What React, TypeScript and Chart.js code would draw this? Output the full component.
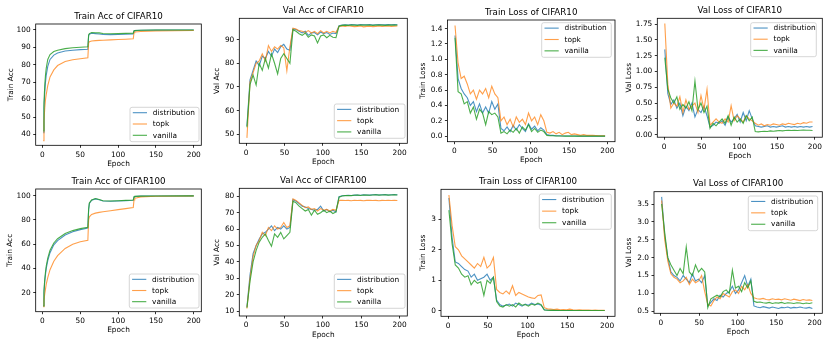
import React, { useEffect, useRef } from "react";
import { Chart, registerables } from "chart.js";
Chart.register(...registerables);

// ---------- epochs ----------
const TA_EPOCHS = [1, 2, 3, 4, 5, 7, 10, 15, 20, 30, 40, 50, 60, 61, 62, 65, 70, 75, 80, 90, 100, 110, 120, 121, 122, 130, 150, 200];
const NZ_EPOCHS = [1, 5, 9, 13, 17, 21, 25, 29, 33, 37, 41, 45, 49, 53, 57, 61, 65, 69, 73, 77, 81, 85, 89, 93, 97, 101, 105, 109, 113, 117, 121, 125, 129, 133, 137, 141, 145, 149, 153, 157, 161, 165, 169, 173, 177, 181, 185, 189, 193, 197];
const X_TICKS = [0, 50, 100, 150, 200];
const SERIES_NAMES = ["distribution", "topk", "vanilla"];

// ---------- CIFAR10 train acc ----------
const c10TrainAccDist = [41, 55, 64, 70, 74, 79, 83, 85.5, 86.7, 87.8, 88.3, 88.6, 88.8, 96.5, 97.5, 98.0, 97.8, 97.6, 97.3, 97.2, 97.3, 97.5, 97.6, 99.3, 99.5, 99.7, 99.8, 99.9];
const c10TrainAccTopk = [36.5, 48, 55, 60, 63, 68, 73, 77, 79.5, 81.8, 82.8, 83.4, 83.9, 92.5, 93.2, 93.6, 93.8, 93.9, 94.0, 94.2, 94.4, 94.6, 94.8, 98.3, 98.7, 99.0, 99.3, 99.6];
const c10TrainAccVan = [42, 58, 68, 74, 78, 83, 85.8, 87.5, 88.3, 89.2, 89.7, 90, 90.3, 97, 97.8, 98.4, 98.3, 98.2, 97.9, 97.7, 97.8, 97.9, 98, 99.4, 99.6, 99.75, 99.85, 99.9];

// ---------- CIFAR10 val acc ----------
const c10ValAccDist = [53.5, 73, 77, 81, 79, 83, 82, 85, 83, 86, 84.5, 87, 88, 86, 85.5, 94.5, 94.3, 93.5, 92.8, 93.5, 91.8, 92.8, 93, 92, 93.2, 92.5, 93, 92.2, 92.8, 92.5, 95.9, 96.2, 96.3, 96.2, 96.4, 96.3, 96.2, 96.4, 96.3, 96.3, 96.4, 96.2, 96.3, 96.4, 96.3, 96.3, 96.4, 96.3, 96.4, 96.3];
const c10ValAccTopk = [48.5, 72, 76, 80, 81, 84, 81, 87.5, 85, 87, 86, 87.5, 86.5, 76.8, 87, 94.8, 94.5, 93.8, 93.5, 93, 93.8, 92.8, 93.5, 92.5, 93.8, 92.8, 93.5, 92.8, 93.5, 93, 95.5, 95.8, 95.6, 95.9, 95.7, 95.5, 95.6, 95.8, 95.4, 95.6, 95.7, 95.5, 95.6, 95.8, 95.6, 95.7, 95.8, 95.6, 95.7, 95.8];
const c10ValAccVan = [53, 71, 75, 70.8, 80, 77, 82, 78, 84, 80, 75.5, 82, 84, 82, 80, 94.2, 93.5, 92.5, 91.8, 92.8, 91, 92, 91.5, 88.6, 91.5, 92, 90.8, 91.8, 91, 90.8, 95.7, 96, 96.1, 96, 96.2, 96.1, 96, 96.2, 96.1, 96.1, 96.2, 96, 96.1, 96.2, 96.1, 96, 96.1, 96.2, 96.1, 96.2];

// ---------- CIFAR10 train loss ----------
const c10TrainLossDist = [1.31, 0.75, 0.62, 0.55, 0.5, 0.4, 0.45, 0.32, 0.42, 0.3, 0.38, 0.3, 0.45, 0.35, 0.42, 0.1, 0.07, 0.12, 0.06, 0.14, 0.08, 0.15, 0.1, 0.06, 0.16, 0.09, 0.13, 0.07, 0.11, 0.08, 0.02, 0.01, 0.01, 0.005, 0.005, 0.003, 0.003, 0.002, 0.002, 0.002, 0.001, 0.001, 0.001, 0.001, 0.001, 0.001, 0.001, 0.001, 0.001, 0.001];
const c10TrainLossTopk = [1.44, 0.95, 0.75, 0.78, 0.68, 0.55, 0.6, 0.48, 0.6, 0.55, 0.62, 0.5, 0.65, 0.55, 0.5, 0.2, 0.25, 0.15, 0.22, 0.12, 0.25, 0.18, 0.22, 0.15, 0.3, 0.2, 0.25, 0.15, 0.28, 0.2, 0.05, 0.04, 0.06, 0.03, 0.05, 0.02, 0.04, 0.05, 0.02, 0.03, 0.02, 0.01, 0.02, 0.01, 0.01, 0.01, 0.008, 0.005, 0.005, 0.005];
const c10TrainLossVan = [1.28, 0.58, 0.55, 0.42, 0.45, 0.3, 0.38, 0.22, 0.35, 0.3, 0.15, 0.32, 0.28, 0.3, 0.25, 0.04, 0.06, 0.03, 0.08, 0.05, 0.1, 0.04, 0.12, 0.08, 0.15, 0.06, 0.1, 0.05, 0.08, 0.06, 0.01, 0.005, 0.005, 0.003, 0.002, 0.002, 0.001, 0.001, 0.001, 0.001, 0.001, 0.001, 0.001, 0.001, 0.001, 0.001, 0.001, 0.001, 0.001, 0.001];

// ---------- CIFAR10 val loss ----------
const c10ValLossDist = [1.35, 0.65, 0.48, 0.55, 0.42, 0.5, 0.3, 0.45, 0.38, 0.5, 0.28, 0.4, 0.35, 0.45, 0.3, 0.12, 0.15, 0.2, 0.18, 0.22, 0.15, 0.28, 0.2, 0.25, 0.32, 0.2, 0.35, 0.22, 0.38, 0.25, 0.14, 0.13, 0.12, 0.13, 0.14, 0.12, 0.13, 0.12, 0.13, 0.14, 0.12, 0.13, 0.12, 0.13, 0.12, 0.13, 0.12, 0.13, 0.12, 0.13];
const c10ValLossTopk = [1.76, 0.8, 0.42, 0.5, 0.45, 0.6, 0.35, 0.55, 0.4, 0.45, 0.5, 0.35, 0.62, 0.4, 0.72, 0.15, 0.2, 0.25, 0.2, 0.18, 0.25, 0.2, 0.46, 0.22, 0.3, 0.25, 0.2, 0.3, 0.25, 0.22, 0.18, 0.15, 0.17, 0.14, 0.16, 0.15, 0.17, 0.16, 0.15, 0.17, 0.16, 0.18, 0.17, 0.16, 0.18, 0.17, 0.19, 0.18, 0.2, 0.2];
const c10ValLossVan = [1.22, 0.72, 0.58, 0.5, 0.6, 0.4, 0.48, 0.42, 0.52, 0.38, 0.85, 0.4, 0.5, 0.35, 0.45, 0.1, 0.18, 0.14, 0.2, 0.25, 0.18, 0.3, 0.15, 0.28, 0.2, 0.25, 0.18, 0.3, 0.22, 0.28, 0.05, 0.045, 0.05, 0.055, 0.05, 0.06, 0.055, 0.06, 0.065, 0.06, 0.065, 0.07, 0.065, 0.07, 0.065, 0.07, 0.075, 0.07, 0.07, 0.065];

// ---------- CIFAR100 train acc ----------
const c100TrainAccDist = [9, 20, 29, 35, 40, 46.5, 53, 59.5, 63, 67.5, 70.2, 72, 73.3, 88, 93.5, 96.2, 97.3, 96.6, 95.6, 95.4, 95.6, 95.9, 96.2, 98.9, 99.3, 99.6, 99.7, 99.8];
const c100TrainAccTopk = [8.5, 14, 19, 23, 27, 32.5, 39, 46, 50.5, 56.5, 60, 62, 63.3, 80, 82.5, 84.5, 85.6, 86.2, 86.7, 87.6, 88.5, 89.3, 90.2, 96.5, 97.8, 99.0, 99.5, 99.7];
const c100TrainAccVan = [9, 22, 31, 37, 42, 48.5, 55, 61, 64.5, 68.8, 71.2, 72.8, 73.9, 89, 94, 96.5, 97.6, 96.8, 95.8, 95.6, 95.8, 96.1, 96.4, 99, 99.4, 99.6, 99.7, 99.8];

// ---------- CIFAR100 val acc ----------
const c100ValAccDist = [12.5, 32, 45, 50, 54, 57, 58, 60, 62, 59, 61, 60, 62, 60, 61, 78, 77, 75.5, 74, 73.5, 72.5, 72, 71.5, 72, 74, 71, 72, 70.5, 71.5, 70.5, 79.8, 80.3, 80.5, 80.6, 80.5, 80.7, 80.8, 80.6, 80.9, 80.8, 80.7, 80.9, 81, 80.8, 80.9, 81, 80.8, 80.9, 81, 80.9];
const c100ValAccTopk = [11.5, 30, 43, 50, 53, 58, 56, 61, 59, 62, 60, 61, 64, 61, 62, 78.5, 77.5, 76, 74.5, 73, 73.5, 72, 72.5, 71, 72.5, 71.5, 72, 71, 72, 71.5, 77.5, 77.6, 77.4, 77.5, 77.3, 77.6, 77.4, 77.5, 77.3, 77.5, 77.6, 77.4, 77.5, 77.3, 77.5, 77.4, 77.6, 77.4, 77.5, 77.4];
const c100ValAccVan = [12, 28, 40, 47, 52, 55, 57, 53, 49.5, 57, 55, 58, 54, 56, 58, 77, 76, 74, 72.5, 71, 72, 68.5, 71.5, 69, 70, 71.5, 70, 71, 69.5, 70.5, 79.5, 80.2, 80.4, 80.5, 80.4, 80.6, 80.7, 80.5, 80.8, 80.7, 80.6, 80.8, 80.9, 80.7, 80.8, 80.9, 80.7, 80.8, 80.9, 80.8];

// ---------- CIFAR100 train loss ----------
const c100TrainLossDist = [3.7, 2.4, 1.6, 1.55, 1.45, 1.35, 1.3, 1.1, 1.2, 1.0, 1.05, 1.1, 1.2, 1.0, 1.1, 0.35, 0.2, 0.15, 0.18, 0.22, 0.15, 0.25, 0.2, 0.15, 0.22, 0.18, 0.25, 0.2, 0.22, 0.18, 0.03, 0.02, 0.015, 0.01, 0.01, 0.008, 0.008, 0.007, 0.007, 0.006, 0.006, 0.006, 0.005, 0.005, 0.005, 0.005, 0.005, 0.005, 0.005, 0.005];
const c100TrainLossTopk = [3.8, 2.8, 2.1, 2.0, 1.8, 1.7, 1.6, 1.5, 1.4, 1.55, 1.45, 1.75, 1.4, 1.5, 1.75, 0.7, 0.6, 0.55, 0.65, 0.55, 0.82, 0.5, 0.6, 0.55, 0.5, 0.45, 0.42, 0.4, 0.5, 0.52, 0.1, 0.06, 0.05, 0.04, 0.05, 0.03, 0.04, 0.03, 0.05, 0.03, 0.02, 0.03, 0.02, 0.02, 0.02, 0.015, 0.02, 0.015, 0.01, 0.01];
const c100TrainLossVan = [3.3, 2.2, 1.5, 1.4, 1.2, 1.1, 1.15, 0.85, 1.0, 0.9, 0.95, 0.5, 1.0, 0.9, 1.1, 0.3, 0.15, 0.12, 0.2, 0.15, 0.2, 0.12, 0.25, 0.18, 0.2, 0.15, 0.22, 0.18, 0.25, 0.2, 0.02, 0.015, 0.01, 0.01, 0.008, 0.007, 0.006, 0.006, 0.005, 0.005, 0.005, 0.005, 0.005, 0.005, 0.005, 0.005, 0.005, 0.005, 0.005, 0.005];

// ---------- CIFAR100 val loss ----------
const c100ValLossDist = [3.7, 2.6, 2.0, 1.6, 1.5, 1.45, 1.35, 1.5, 1.4, 1.3, 1.55, 1.35, 1.4, 1.3, 1.5, 0.65, 0.75, 0.85, 0.8, 0.95, 0.9, 1.0, 1.05, 1.2, 1.0, 1.1, 1.3, 1.5, 1.2, 1.4, 0.65, 0.62, 0.6, 0.63, 0.61, 0.59, 0.62, 0.6, 0.58, 0.61, 0.6, 0.62, 0.59, 0.61, 0.6, 0.62, 0.6, 0.59, 0.61, 0.58];
const c100ValLossTopk = [3.6, 2.5, 1.9, 1.55, 1.45, 1.4, 1.3, 1.35, 1.45, 1.25, 1.4, 1.3, 1.35, 1.5, 1.05, 0.7, 0.65, 0.8, 0.9, 0.85, 1.0, 0.95, 0.9, 1.05, 1.1, 1.0, 1.2, 1.1, 1.25, 1.0, 0.88, 0.85, 0.84, 0.86, 0.83, 0.82, 0.85, 0.83, 0.84, 0.82, 0.85, 0.83, 0.81, 0.84, 0.82, 0.8, 0.83, 0.81, 0.82, 0.8];
const c100ValLossVan = [3.5, 2.7, 2.0, 1.8, 1.65, 1.5, 1.7, 1.55, 2.3, 1.6, 1.5, 1.8, 1.6, 1.7, 1.6, 0.6, 0.85, 0.9, 0.95, 0.9, 1.05, 1.1, 1.0, 1.65, 1.15, 1.2, 1.05, 1.3, 1.15, 1.35, 0.78, 0.75, 0.76, 0.74, 0.73, 0.75, 0.72, 0.74, 0.73, 0.75, 0.72, 0.74, 0.73, 0.72, 0.74, 0.73, 0.71, 0.73, 0.72, 0.74];

// ---------- y tick labels ----------
const TICKS_C10_TRAIN_ACC = [40, 50, 60, 70, 80, 90, 100];
const TICKS_C10_VAL_ACC = [50, 60, 70, 80, 90];
const TICKS_C10_TRAIN_LOSS = [0, 0.2, 0.4, 0.6, 0.8, 1.0, 1.2, 1.4];
const TICKS_C10_VAL_LOSS = [0, 0.25, 0.5, 0.75, 1.0, 1.25, 1.5, 1.75];
const TICKS_C100_TRAIN_ACC = [20, 40, 60, 80, 100];
const TICKS_C100_VAL_ACC = [10, 20, 30, 40, 50, 60, 70, 80];
const TICKS_C100_TRAIN_LOSS = [0, 1, 2, 3];
const TICKS_C100_VAL_LOSS = [0.5, 1.0, 1.5, 2.0, 2.5, 3.0, 3.5];

const COLORS = ["rgba(31,119,180,0.8)", "rgba(255,127,14,0.75)", "rgba(44,160,44,0.85)"];
const FONT = '"DejaVu Sans", sans-serif';
const TICK_FS = 7.4;
const TITLE_FS = 8.7;

type Panel = {
  title: string;
  ylabel: string;
  epochs: number[];
  series: number[][];
  yTicks: number[];
  dec: number;
  ymin: number;
  ymax: number;
  rect: [number, number, number, number];
  ylabOff: number;
  legend: [number, number, number, number];
};

const PANELS: Panel[] = [
  { title: "Train Acc of CIFAR10", ylabel: "Train Acc", epochs: TA_EPOCHS, series: [c10TrainAccDist, c10TrainAccTopk, c10TrainAccVan], yTicks: TICKS_C10_TRAIN_ACC, dec: 0, ymin: 33.8, ymax: 103.3, rect: [35.7, 24, 201.3, 145.3], ylabOff: -25, legend: [130, 107.3, 199, 141.7] },
  { title: "Val Acc of CIFAR10", ylabel: "Val Acc", epochs: NZ_EPOCHS, series: [c10ValAccDist, c10ValAccTopk, c10ValAccVan], yTicks: TICKS_C10_VAL_ACC, dec: 0, ymin: 46.2, ymax: 99.0, rect: [239.3, 18.3, 407.3, 143.3], ylabOff: -22.6, legend: [334.3, 104, 405, 138.3] },
  { title: "Train Loss of CIFAR10", ylabel: "Train Loss", epochs: NZ_EPOCHS, series: [c10TrainLossDist, c10TrainLossTopk, c10TrainLossVan], yTicks: TICKS_C10_TRAIN_LOSS, dec: 1, ymin: -0.072, ymax: 1.512, rect: [447.4, 20, 615, 141.7], ylabOff: -24.1, legend: [541.7, 22.7, 611.3, 57.3] },
  { title: "Val Loss of CIFAR10", ylabel: "Val Loss", epochs: NZ_EPOCHS, series: [c10ValLossDist, c10ValLossTopk, c10ValLossVan], yTicks: TICKS_C10_VAL_LOSS, dec: 2, ymin: -0.04, ymax: 1.842, rect: [657.3, 18.3, 822.3, 137.2], ylabOff: -28.3, legend: [750.7, 22.7, 816.3, 56.7] },
  { title: "Train Acc of CIFAR100", ylabel: "Train Acc", epochs: TA_EPOCHS, series: [c100TrainAccDist, c100TrainAccTopk, c100TrainAccVan], yTicks: TICKS_C100_TRAIN_ACC, dec: 0, ymin: 4.33, ymax: 105.5, rect: [35.7, 189, 201.3, 311.7], ylabOff: -25.7, legend: [129.3, 274, 199, 308] },
  { title: "Val Acc of CIFAR100", ylabel: "Val Acc", epochs: NZ_EPOCHS, series: [c100ValAccDist, c100ValAccTopk, c100ValAccVan], yTicks: TICKS_C100_VAL_ACC, dec: 0, ymin: 6.95, ymax: 84.88, rect: [239.3, 188.3, 407.3, 316], ylabOff: -22.6, legend: [334.3, 274, 405, 308.3] },
  { title: "Train Loss of CIFAR100", ylabel: "Train Loss", epochs: NZ_EPOCHS, series: [c100TrainLossDist, c100TrainLossTopk, c100TrainLossVan], yTicks: TICKS_C100_TRAIN_LOSS, dec: 0, ymin: -0.184, ymax: 3.985, rect: [441, 189.3, 615, 316.3], ylabOff: -17.7, legend: [539.3, 194, 611.3, 229.3] },
  { title: "Val Loss of CIFAR100", ylabel: "Val Loss", epochs: NZ_EPOCHS, series: [c100ValLossDist, c100ValLossTopk, c100ValLossVan], yTicks: TICKS_C100_VAL_LOSS, dec: 1, ymin: 0.444, ymax: 3.845, rect: [654, 191.7, 822.3, 313.3], ylabOff: -24.7, legend: [748.3, 196, 817.7, 230.7] },
];

const overlayPlugin = {
  id: "overlay",
  afterDraw(chart: any, _args: any, opts: any) {
    const { ctx, chartArea: ca } = chart;
    const p: Panel = opts.panel;
    const ox: number = opts.ox;
    const oy: number = opts.oy;
    ctx.save();
    ctx.strokeStyle = "#000";
    ctx.lineWidth = 0.8;
    ctx.strokeRect(ca.left, ca.top, ca.right - ca.left, ca.bottom - ca.top);
    ctx.fillStyle = "#000";
    ctx.textAlign = "center";
    ctx.textBaseline = "middle";
    ctx.font = `${TITLE_FS}px ${FONT}`;
    ctx.fillText(p.title, (ca.left + ca.right) / 2, ca.top - 7.7);
    ctx.font = `${TICK_FS}px ${FONT}`;
    ctx.fillText("Epoch", (ca.left + ca.right) / 2, ca.bottom + 18.7);
    ctx.save();
    ctx.translate(ca.left + p.ylabOff, (ca.top + ca.bottom) / 2);
    ctx.rotate(-Math.PI / 2);
    ctx.fillText(p.ylabel, 0, 0);
    ctx.restore();
    // legend
    const [l, t, r, b] = p.legend;
    const lx = l - ox, ly = t - oy, lw = r - l, lh = b - t;
    const rad = 2;
    ctx.beginPath();
    ctx.moveTo(lx + rad, ly);
    ctx.lineTo(lx + lw - rad, ly);
    ctx.quadraticCurveTo(lx + lw, ly, lx + lw, ly + rad);
    ctx.lineTo(lx + lw, ly + lh - rad);
    ctx.quadraticCurveTo(lx + lw, ly + lh, lx + lw - rad, ly + lh);
    ctx.lineTo(lx + rad, ly + lh);
    ctx.quadraticCurveTo(lx, ly + lh, lx, ly + lh - rad);
    ctx.lineTo(lx, ly + rad);
    ctx.quadraticCurveTo(lx, ly, lx + rad, ly);
    ctx.closePath();
    ctx.fillStyle = "rgba(255,255,255,0.8)";
    ctx.fill();
    ctx.strokeStyle = "#cccccc";
    ctx.lineWidth = 0.8;
    ctx.stroke();
    const rows = [5.4, 16.7, 28];
    ctx.textAlign = "left";
    ctx.font = `${TICK_FS}px ${FONT}`;
    SERIES_NAMES.forEach((name, i) => {
      const yy = ly + rows[i] * (lh / 34.4);
      ctx.strokeStyle = COLORS[i];
      ctx.lineWidth = 1.1;
      ctx.beginPath();
      ctx.moveTo(lx + 2.8, yy);
      ctx.lineTo(lx + 17, yy);
      ctx.stroke();
      ctx.fillStyle = "#000";
      ctx.fillText(name, lx + 22.8, yy + 0.3);
    });
    ctx.restore();
  },
};

function PanelChart({ p }: { p: Panel }) {
  const ref = useRef<HTMLCanvasElement | null>(null);
  const [l, t, r, b] = p.rect;
  const cx = Math.floor(l) - 50;
  const cy = Math.floor(t) - 24;
  const cw = Math.ceil(r) + 8 - cx;
  const ch = Math.ceil(b) + 30 - cy;
  useEffect(() => {
    if (!ref.current) return;
    const datasets = p.series.map((vals, i) => ({
      label: SERIES_NAMES[i],
      data: p.epochs.map((x, j) => ({ x, y: vals[j] })),
      borderColor: COLORS[i],
      backgroundColor: COLORS[i],
      borderWidth: 1.1,
      pointRadius: 0,
      tension: 0,
      fill: false,
      order: 3 - i,
    }));
    const yTicks = p.yTicks;
    const chart = new Chart(ref.current, {
      type: "line",
      data: { datasets },
      plugins: [overlayPlugin],
      options: {
        animation: false,
        responsive: false,
        devicePixelRatio: 1,
        events: [],
        layout: { padding: { left: 0, top: t - cy, right: cx + cw - r, bottom: 0 } },
        plugins: {
          legend: { display: false },
          title: { display: false },
          tooltip: { enabled: false },
          overlay: { panel: p, ox: cx, oy: cy },
        } as any,
        scales: {
          x: {
            type: "linear",
            min: -8.95,
            max: 209.95,
            afterBuildTicks: (s: any) => { s.ticks = X_TICKS.map((v) => ({ value: v })); },
            afterFit: (s: any) => { s.height = cy + ch - b; },
            ticks: { autoSkip: false, maxRotation: 0, minRotation: 0, padding: 2.5, color: "#000", font: { family: FONT, size: TICK_FS }, callback: (v: any) => String(v) },
            grid: { display: true, drawOnChartArea: false, drawTicks: true, tickLength: 2.5, tickColor: "#000", tickWidth: 0.8 },
            border: { display: false },
          },
          y: {
            type: "linear",
            min: p.ymin,
            max: p.ymax,
            afterBuildTicks: (s: any) => { s.ticks = yTicks.map((v) => ({ value: v })); },
            afterFit: (s: any) => { s.width = l - cx; },
            ticks: { autoSkip: false, padding: 2.5, color: "#000", font: { family: FONT, size: TICK_FS }, callback: (v: any) => Number(v).toFixed(p.dec) },
            grid: { display: true, drawOnChartArea: false, drawTicks: true, tickLength: 2.5, tickColor: "#000", tickWidth: 0.8 },
            border: { display: false },
          },
        },
      } as any,
    });
    return () => chart.destroy();
  }, []);
  return (
    <canvas
      ref={ref}
      width={cw}
      height={ch}
      style={{ position: "absolute", left: cx, top: cy, width: cw, height: ch }}
    />
  );
}

export default function App() {
  return (
    <div style={{ position: "fixed", left: 0, top: 0, width: 830, height: 349, background: "#fff", overflow: "hidden" }}>
      {PANELS.map((p, i) => (
        <PanelChart key={i} p={p} />
      ))}
    </div>
  );
}
